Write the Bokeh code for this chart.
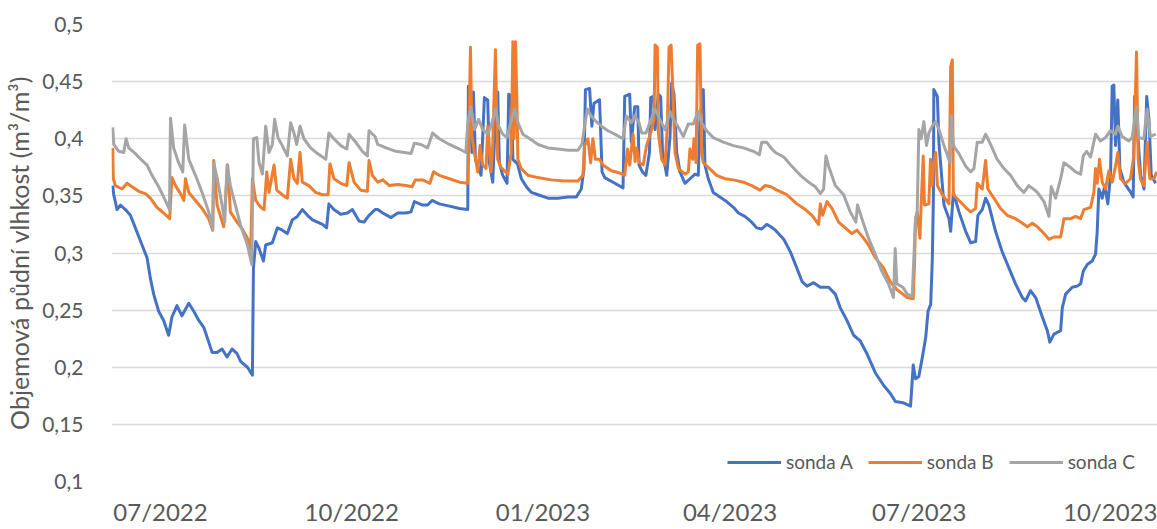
import pandas as pd
from bokeh.plotting import figure
from bokeh.models import Range1d, FixedTicker, DatetimeTickFormatter, Legend, LegendItem
from bokeh.embed import file_html
from bokeh.resources import INLINE

# ---------------- data ----------------
START = "2022-06-08"   # first measurement day; day_* are days after it

day_a = [0, 0.5, 2.1, 3.7, 6.1, 8.5, 10.9, 14.1, 16.5, 18.1, 19.7, 22.1, 24.5, 26.9, 28.5, 30.9,
         33.3, 36.6, 39.0, 41.4, 43.8, 46.2, 47.8, 50.2, 52.6, 55.0, 57.4, 59.8, 61.6, 64.8, 67.2, 67.7,
         68.8, 70.4, 72.5, 73.6, 76.8, 79.2, 81.6, 84.0, 86.4, 88.8, 91.2, 93.7, 96.1, 98.5, 100.9, 102.9,
         104.0, 106.4, 109.7, 112.9, 115.3, 118.5, 120.9, 123.3, 126.2, 127.5, 129.9, 133.9, 137.1, 141.1,
         143.5, 145.1, 149.1, 151.5, 153.6, 157.1, 162.0, 166.8, 170.8, 171.1, 171.9, 172.8, 173.5, 174.5,
         176.0, 177.2, 178.8, 180.4, 181.2, 182.8, 184.1, 185.2, 186.0, 187.6, 189.7, 190.5, 191.8, 192.5,
         194.7, 196.6, 199.0, 201.4, 204.6, 209.4, 214.2, 219.0, 223.0, 225.4, 226.7, 227.4, 229.4, 230.5,
         231.5, 234.2, 235.4, 236.7, 241.5, 245.5, 246.3, 248.7, 249.5, 251.1, 252.6, 253.2, 254.8, 256.5,
         258.2, 258.8, 260.1, 260.9, 262.5, 263.6, 264.5, 266.5, 268.1, 268.9, 270.0, 271.3, 272.9, 275.3,
         277.7, 280.1, 281.7, 282.5, 284.1, 284.9, 286.5, 288.9, 292.1, 295.3, 298.6, 301.0, 304.1, 307.4,
         309.8, 312.2, 314.6, 316.6, 318.8, 322.8, 326.0, 328.4, 331.6, 334.0, 337.2, 340.4, 344.4, 347.6,
         350.0, 353.2, 356.4, 359.6, 362.8, 366.9, 370.9, 374.1, 376.5, 380.1, 383.8, 385.1, 386.2, 387.8,
         389.5, 391.1, 392.2, 393.5, 394.3, 394.8, 395.0, 396.7, 397.5, 399.9, 402.3, 403.1, 404.4, 407.1,
         410.3, 412.7, 415.1, 416.2, 418.3, 419.9, 421.5, 424.7, 427.9, 431.1, 434.3, 437.6, 439.1, 441.5,
         444.0, 447.2, 449.6, 450.8, 452.8, 456.0, 456.8, 458.4, 461.6, 464.0, 465.6, 466.9, 468.8, 471.2,
         472.8, 473.6, 474.4, 476.0, 477.2, 478.7, 480.0, 480.8, 481.6, 482.4, 483.5, 484.5, 486.4, 489.7,
         490.9, 491.6, 492.9, 494.5, 496.1, 497.4, 498.5, 499.6, 501.7]
sonda_a = [0.359, 0.351, 0.338, 0.342, 0.338, 0.333, 0.322, 0.307, 0.296, 0.278, 0.264, 0.249, 0.241, 0.228, 0.244, 0.254,
           0.245, 0.256, 0.249, 0.241, 0.235, 0.222, 0.213, 0.213, 0.216, 0.209, 0.216, 0.212, 0.205, 0.200, 0.193, 0.287,
           0.310, 0.304, 0.293, 0.307, 0.309, 0.322, 0.320, 0.317, 0.329, 0.332, 0.338, 0.333, 0.329, 0.327, 0.325, 0.322,
           0.343, 0.338, 0.334, 0.335, 0.338, 0.328, 0.327, 0.333, 0.338, 0.338, 0.335, 0.331, 0.335, 0.335,
           0.336, 0.345, 0.342, 0.342, 0.346, 0.343, 0.341, 0.339, 0.338, 0.446, 0.443, 0.388, 0.441, 0.382,
           0.374, 0.368, 0.436, 0.434, 0.379, 0.362, 0.417, 0.441, 0.379, 0.368, 0.361, 0.439, 0.437, 0.382,
           0.378, 0.365, 0.358, 0.353, 0.351, 0.348, 0.348, 0.349, 0.349, 0.356, 0.374, 0.443, 0.444, 0.411,
           0.431, 0.434, 0.371, 0.366, 0.361, 0.357, 0.437, 0.439, 0.397, 0.428, 0.428, 0.377, 0.371, 0.368,
           0.388, 0.436, 0.437, 0.408, 0.439, 0.437, 0.388, 0.368, 0.402, 0.449, 0.439, 0.388, 0.371, 0.361,
           0.365, 0.369, 0.368, 0.417, 0.443, 0.377, 0.365, 0.353, 0.349, 0.345, 0.340, 0.335, 0.332, 0.327,
           0.322, 0.321, 0.325, 0.323, 0.320, 0.312, 0.301, 0.290, 0.275, 0.271, 0.274, 0.270, 0.270, 0.264,
           0.252, 0.241, 0.228, 0.223, 0.212, 0.195, 0.184, 0.177, 0.170, 0.169, 0.166, 0.202, 0.190, 0.192,
           0.209, 0.226, 0.249, 0.255, 0.296, 0.351, 0.443, 0.437, 0.395, 0.342, 0.330, 0.319, 0.353, 0.336,
           0.319, 0.309, 0.310, 0.333, 0.338, 0.348, 0.342, 0.319, 0.301, 0.287, 0.273, 0.261, 0.258, 0.267,
           0.261, 0.244, 0.232, 0.222, 0.229, 0.232, 0.252, 0.264, 0.270, 0.271, 0.273, 0.284, 0.290, 0.293,
           0.299, 0.319, 0.356, 0.348, 0.359, 0.343, 0.368, 0.446, 0.447, 0.394, 0.434, 0.374, 0.362, 0.353,
           0.349, 0.437, 0.408, 0.368, 0.356, 0.437, 0.417, 0.368, 0.361]

day_b = [0, 0.3, 1.3, 4.5, 6.9, 9.3, 12.5, 15.7, 18.1, 21.3, 24.5, 27.4, 28.5, 30.2, 32.6, 34.2,
         35.0, 36.6, 39.8, 43.0, 46.2, 48.1, 48.6, 50.2, 53.4, 55.3, 56.6, 59.8, 62.7, 64.8, 66.4, 67.2,
         68.8, 71.2, 72.8, 74.1, 75.2, 77.6, 78.9, 81.6, 84.0, 85.6, 87.2, 88.8, 90.1, 91.2, 94.4, 97.6,
         100.9, 103.6, 104.5, 106.4, 109.7, 112.6, 113.7, 116.1, 119.3, 122.5, 123.3, 124.9, 127.5, 129.9,
         133.1, 137.1, 141.1, 144.0, 145.6, 149.1, 152.6, 154.3, 157.1, 162.0, 166.8, 170.8, 171.2, 172.1,
         172.8, 174.0, 175.6, 176.7, 178.0, 179.6, 180.4, 182.0, 182.8, 184.1, 185.2, 186.8, 188.4, 190.1,
         191.7, 192.5, 193.1, 193.8, 194.6, 194.9, 196.5, 199.7, 204.5, 210.9, 217.4, 223.8, 226.2, 227.0,
         228.6, 229.9, 231.0, 232.2, 234.2, 235.8, 239.9, 243.9, 246.3, 247.6, 248.7, 250.3, 251.3, 252.0,
         253.3, 255.2, 256.8, 258.8, 260.4, 260.9, 262.0, 262.5, 264.1, 265.7, 266.8, 267.6, 268.6, 269.4,
         270.5, 272.1, 275.3, 276.9, 277.7, 279.0, 279.6, 280.6, 281.4, 282.5, 283.3, 284.1, 286.5, 290.5,
         294.5, 298.6, 303.4, 307.4, 311.4, 313.8, 316.6, 319.5, 324.3, 329.1, 333.2, 336.4, 339.6, 340.4,
         341.5, 343.6, 346.0, 349.2, 352.4, 355.6, 358.0, 361.2, 363.6, 366.8, 370.8, 374.0, 377.2, 380.1,
         382.2, 385.1, 385.7, 386.2, 387.0, 388.3, 388.9, 389.9, 390.5, 392.6, 393.4, 394.2, 395.0, 395.9,
         396.7, 399.1, 402.3, 403.1, 403.9, 404.4, 407.1, 410.3, 412.7, 415.1, 415.9, 418.3, 419.9, 421.0,
         423.9, 427.1, 430.3, 434.3, 437.6, 440.0, 442.4, 444.8, 448.0, 450.4, 452.8, 456.0, 457.6, 460.8,
         463.2, 465.6, 467.2, 470.4, 472.0, 472.8, 473.6, 474.7, 476.0, 477.6, 479.2, 480.8, 482.4, 483.5,
         484.8, 487.2, 489.6, 491.2, 492.5, 493.3, 494.4, 496.0, 497.6, 498.9, 500.9, 502.2]
sonda_b = [0.392, 0.365, 0.359, 0.356, 0.361, 0.358, 0.354, 0.352, 0.348, 0.340, 0.335, 0.330, 0.366, 0.359, 0.352, 0.346,
           0.365, 0.353, 0.346, 0.339, 0.330, 0.320, 0.381, 0.342, 0.323, 0.377, 0.336, 0.327, 0.320, 0.313, 0.304, 0.365,
           0.346, 0.340, 0.338, 0.371, 0.353, 0.377, 0.355, 0.351, 0.348, 0.382, 0.365, 0.361, 0.388, 0.362, 0.359, 0.353,
           0.351, 0.351, 0.378, 0.365, 0.361, 0.359, 0.379, 0.362, 0.355, 0.354, 0.381, 0.368, 0.362, 0.364,
           0.359, 0.360, 0.359, 0.358, 0.364, 0.364, 0.361, 0.371, 0.368, 0.365, 0.362, 0.361, 0.388, 0.480,
           0.402, 0.388, 0.371, 0.394, 0.377, 0.374, 0.411, 0.371, 0.394, 0.478, 0.382, 0.375, 0.372, 0.369,
           0.388, 0.485, 0.400, 0.485, 0.417, 0.382, 0.374, 0.368, 0.366, 0.364, 0.363, 0.363, 0.368, 0.394,
           0.400, 0.379, 0.400, 0.382, 0.382, 0.377, 0.372, 0.370, 0.368, 0.391, 0.377, 0.404, 0.380, 0.392,
           0.379, 0.377, 0.394, 0.405, 0.417, 0.482, 0.480, 0.405, 0.382, 0.377, 0.411, 0.480, 0.482, 0.446,
           0.388, 0.374, 0.369, 0.371, 0.391, 0.382, 0.400, 0.379, 0.482, 0.483, 0.388, 0.379, 0.375, 0.368,
           0.365, 0.364, 0.362, 0.359, 0.355, 0.359, 0.358, 0.355, 0.351, 0.343, 0.338, 0.333, 0.325, 0.343,
           0.333, 0.345, 0.339, 0.327, 0.322, 0.317, 0.320, 0.313, 0.307, 0.296, 0.287, 0.275, 0.268, 0.264,
           0.261, 0.260, 0.290, 0.330, 0.336, 0.313, 0.342, 0.385, 0.342, 0.343, 0.382, 0.359, 0.379, 0.388,
           0.359, 0.351, 0.343, 0.463, 0.469, 0.351, 0.346, 0.340, 0.336, 0.339, 0.361, 0.356, 0.381, 0.356,
           0.348, 0.339, 0.333, 0.330, 0.326, 0.323, 0.326, 0.323, 0.317, 0.312, 0.314, 0.314, 0.330, 0.330,
           0.332, 0.330, 0.338, 0.340, 0.353, 0.374, 0.361, 0.382, 0.362, 0.356, 0.372, 0.362, 0.376, 0.388,
           0.365, 0.361, 0.365, 0.385, 0.476, 0.382, 0.365, 0.359, 0.397, 0.365, 0.365, 0.371]

day_c = [0, 0.5, 2.9, 5.3, 6.4, 7.7, 10.9, 14.1, 16.5, 18.9, 22.1, 25.3, 27.3, 27.8, 29.3, 31.7,
         33.7, 34.6, 36.6, 39.8, 43.0, 46.2, 48.1, 48.6, 50.2, 52.6, 53.9, 55.0, 56.6, 59.0, 61.4, 64.8,
         66.9, 67.7, 69.3, 70.4, 72.0, 73.6, 75.2, 76.8, 77.9, 79.5, 81.6, 84.0, 85.6, 87.2, 88.5, 90.1,
         92.0, 95.2, 98.5, 102.5, 104.0, 106.4, 109.7, 112.6, 113.7, 116.9, 120.1, 122.5, 123.3, 126.2,
         127.5, 131.5, 136.3, 140.3, 143.5, 145.1, 148.3, 151.5, 153.9, 157.1, 162.0, 166.8, 169.9, 170.8,
         172.3, 174.0, 176.0, 178.0, 180.4, 182.0, 184.1, 185.7, 187.6, 189.7, 191.0, 193.4, 195.0, 197.3,
         200.6, 204.6, 209.4, 214.2, 219.0, 223.8, 225.7, 227.0, 228.3, 230.2, 232.6, 235.1, 238.2, 241.5,
         245.5, 247.1, 249.5, 251.1, 253.2, 254.5, 256.5, 258.4, 260.9, 263.2, 265.7, 268.1, 269.7, 272.1,
         274.5, 276.9, 279.3, 281.7, 283.3, 285.7, 288.9, 293.7, 298.6, 303.4, 308.2, 311.1, 312.2, 314.6,
         316.6, 318.8, 322.8, 326.7, 330.8, 334.8, 338.0, 340.4, 342.0, 343.1, 344.4, 347.6, 351.6, 354.8,
         357.5, 358.3, 360.4, 363.6, 366.8, 370.0, 373.2, 375.6, 376.4, 377.2, 380.1, 382.2, 384.6, 385.4,
         386.2, 387.0, 387.8, 388.9, 390.2, 391.5, 392.6, 394.2, 395.9, 397.5, 399.9, 402.8, 403.4, 404.4,
         407.1, 410.3, 412.7, 414.3, 415.9, 418.3, 419.9, 422.3, 425.5, 428.7, 431.9, 435.1, 438.3, 440.7,
         443.6, 444.8, 448.0, 450.4, 451.5, 453.6, 456.0, 457.6, 460.0, 463.2, 465.6, 466.9, 468.5, 470.4,
         472.8, 475.2, 477.6, 480.0, 482.4, 483.5, 485.6, 488.8, 490.4, 492.5, 493.6, 496.0, 497.6, 499.2,
         501.7]
sonda_c = [0.410, 0.395, 0.389, 0.388, 0.400, 0.392, 0.387, 0.381, 0.377, 0.368, 0.358, 0.346, 0.338, 0.418, 0.392, 0.379,
           0.371, 0.412, 0.382, 0.368, 0.353, 0.336, 0.320, 0.379, 0.366, 0.342, 0.327, 0.377, 0.359, 0.342, 0.325, 0.307,
           0.290, 0.400, 0.401, 0.379, 0.369, 0.411, 0.388, 0.395, 0.417, 0.401, 0.394, 0.385, 0.414, 0.405, 0.395, 0.411,
           0.400, 0.392, 0.387, 0.382, 0.405, 0.400, 0.394, 0.391, 0.404, 0.397, 0.389, 0.385, 0.407, 0.402,
           0.395, 0.392, 0.389, 0.388, 0.387, 0.396, 0.395, 0.392, 0.405, 0.400, 0.395, 0.391, 0.388, 0.414,
           0.428, 0.408, 0.417, 0.408, 0.404, 0.411, 0.426, 0.411, 0.404, 0.401, 0.411, 0.426, 0.414, 0.404,
           0.400, 0.395, 0.392, 0.391, 0.390, 0.390, 0.395, 0.411, 0.426, 0.420, 0.415, 0.411, 0.407, 0.404,
           0.400, 0.420, 0.414, 0.420, 0.414, 0.405, 0.405, 0.414, 0.426, 0.417, 0.408, 0.424, 0.417, 0.410,
           0.402, 0.413, 0.413, 0.424, 0.414, 0.407, 0.401, 0.397, 0.394, 0.392, 0.389, 0.386, 0.397, 0.397,
           0.392, 0.388, 0.384, 0.376, 0.368, 0.362, 0.358, 0.352, 0.356, 0.385, 0.376, 0.359, 0.351, 0.336,
           0.327, 0.342, 0.330, 0.313, 0.299, 0.284, 0.273, 0.261, 0.304, 0.273, 0.270, 0.264, 0.262, 0.296,
           0.330, 0.336, 0.408, 0.400, 0.415, 0.394, 0.405, 0.411, 0.415, 0.408, 0.394, 0.379, 0.420, 0.394,
           0.387, 0.376, 0.371, 0.374, 0.397, 0.397, 0.404, 0.395, 0.382, 0.374, 0.368, 0.359, 0.353, 0.359,
           0.355, 0.353, 0.345, 0.332, 0.358, 0.348, 0.365, 0.379, 0.376, 0.371, 0.369, 0.385, 0.389, 0.384,
           0.404, 0.398, 0.401, 0.407, 0.404, 0.411, 0.402, 0.398, 0.401, 0.428, 0.401, 0.400, 0.426, 0.402,
           0.404]

series_names = ["sonda A", "sonda B", "sonda C"]
series_colors = ["#4472C4", "#ED7D31", "#A5A5A5"]

y_ticks = [0.1, 0.15, 0.2, 0.25, 0.3, 0.35, 0.4, 0.45, 0.5]
y_tick_labels = ["0,1", "0,15", "0,2", "0,25", "0,3", "0,35", "0,4", "0,45", "0,5"]
x_tick_dates = ["2022-07-01", "2022-10-01", "2023-01-01", "2023-04-01", "2023-07-01", "2023-10-01"]
x_tick_labels = ["07/2022", "10/2022", "01/2023", "04/2023", "07/2023", "10/2023"]
y_title = "Objemová půdní vlhkost (m³/m³)"

# ---------------- figure ----------------
t0 = pd.Timestamp(START)


def to_dates(days):
    return t0 + pd.to_timedelta(days, unit="D")


FONT = "Lato"
TXT = "#595959"

p = figure(width=1157, height=529, x_axis_type="datetime", output_backend="svg",
           toolbar_location=None, tools="",
           x_range=Range1d(t0 - pd.Timedelta(hours=14), t0 + pd.Timedelta(days=502.6)),
           y_range=Range1d(0.1, 0.5),
           min_border_left=111, min_border_right=0, min_border_top=24, min_border_bottom=48)
p.outline_line_color = None
p.background_fill_color = "white"
p.border_fill_color = "white"

renderers = []
for days, vals, color in zip([day_a, day_b, day_c], [sonda_a, sonda_b, sonda_c], series_colors):
    r = p.line(to_dates(days), vals, line_color=color, line_width=3, line_join="round")
    renderers.append(r)

# y axis
p.yaxis.ticker = FixedTicker(ticks=y_ticks)
p.yaxis.major_label_overrides = {t: l for t, l in zip(y_ticks, y_tick_labels)}
p.yaxis.axis_line_color = None
p.yaxis.major_tick_line_color = None
p.yaxis.minor_tick_line_color = None
p.yaxis.major_label_text_font = FONT
p.yaxis.major_label_text_font_size = "21px"
p.yaxis.major_label_text_color = TXT
p.yaxis.major_label_standoff = 22
p.yaxis.axis_label = y_title
p.yaxis.axis_label_text_font = FONT
p.yaxis.axis_label_text_font_size = "25px"
p.yaxis.axis_label_text_font_style = "normal"
p.yaxis.axis_label_text_color = TXT
p.yaxis.axis_label_standoff = 5

# x axis
x_ms = [pd.Timestamp(d).value / 1e6 for d in x_tick_dates]
p.xaxis.ticker = FixedTicker(ticks=x_ms)
fmt = "%m/%Y"
p.xaxis.formatter = DatetimeTickFormatter(years=fmt, months=fmt, days=fmt, hours=fmt, minutes=fmt,
                                          seconds=fmt, milliseconds=fmt, microseconds=fmt,
                                          hourmin=fmt, minsec=fmt)
p.xaxis.major_label_overrides = {t: l for t, l in zip(x_ms, x_tick_labels)}
p.xaxis.axis_line_color = None
p.xaxis.major_tick_line_color = None
p.xaxis.minor_tick_line_color = None
p.xaxis.major_label_text_font = FONT
p.xaxis.major_label_text_font_size = "24px"
p.xaxis.major_label_text_color = TXT
p.xaxis.major_label_standoff = 9

p.xgrid.grid_line_color = None
p.ygrid.ticker = FixedTicker(ticks=y_ticks)
p.ygrid.grid_line_color = "#D9D9D9"
p.ygrid.grid_line_width = 1.3

legend = Legend(items=[LegendItem(label=n, renderers=[r]) for n, r in zip(series_names, renderers)],
                orientation="horizontal", location=(616, 8),
                glyph_width=54, glyph_height=20, label_height=20, label_standoff=5, spacing=15,
                padding=0, margin=0, border_line_alpha=0, background_fill_alpha=0,
                label_text_font=FONT, label_text_font_size="19px", label_text_color=TXT)
p.add_layout(legend)

open("out.html", "w").write(file_html(p, INLINE))
